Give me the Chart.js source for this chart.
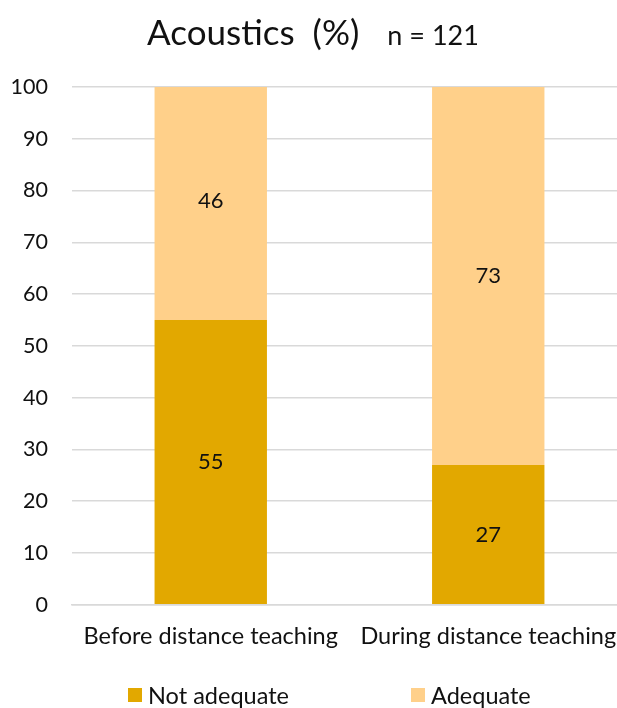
<!DOCTYPE html>
<html>
<head>
<meta charset="utf-8">
<script src="https://cdn.jsdelivr.net/npm/chart.js@4.4.1/dist/chart.umd.min.js"></script>
<style>
  html, body { margin: 0; padding: 0; background: #fff; overflow: hidden; }
  #wrap { width: 617px; height: 708px; overflow: hidden; }
</style>
</head>
<body>
<div id="wrap"><canvas id="chart" width="627" height="708"></canvas></div>
<script>
const categories = ['Before distance teaching', 'During distance teaching'];
const seriesNames = ['Not adequate', 'Adequate'];
const notAdequate = [55, 27];
const adequate = [46, 73];
const yTicks = [0, 10, 20, 30, 40, 50, 60, 70, 80, 90, 100];

const FONT = 'Lato, "Liberation Sans", sans-serif';
const TEXT = '#111';
const colors = ['#E2A800', '#FFD08A'];

// title: big "Acoustics  (%)" plus a smaller "n = 121" on the same line
const titlePlugin = {
  id: 'twoSizeTitle',
  afterDraw(chart) {
    const ctx = chart.ctx;
    const big = 'Acoustics  (%)';
    const small = 'n = 121';
    ctx.save();
    ctx.fillStyle = TEXT;
    ctx.textBaseline = 'alphabetic';
    ctx.font = '35px ' + FONT;
    const wBig = ctx.measureText(big).width;
    ctx.font = '27px ' + FONT;
    const wSmall = ctx.measureText(small).width;
    const gap = 28;
    let x = 313 - (wBig + gap + wSmall) / 2;
    ctx.font = '35px ' + FONT;
    ctx.textAlign = 'left';
    ctx.fillText(big, x, 45);
    ctx.font = '27px ' + FONT;
    ctx.fillText(small, x + wBig + gap, 45);
    ctx.restore();
  }
};

// values in the middle of each segment
const valueLabels = {
  id: 'valueLabels',
  afterDatasetsDraw(chart) {
    const ctx = chart.ctx;
    ctx.save();
    ctx.font = '22px ' + FONT;
    ctx.fillStyle = TEXT;
    ctx.textAlign = 'center';
    ctx.textBaseline = 'middle';
    chart.data.datasets.forEach((ds, i) => {
      chart.getDatasetMeta(i).data.forEach((bar, j) => {
        ctx.fillText(ds.data[j], bar.x, (bar.y + bar.base) / 2);
      });
    });
    ctx.restore();
  }
};

// legend with wide spacing between the two items
const spacedLegend = {
  id: 'spacedLegend',
  afterDraw(chart) {
    const ctx = chart.ctx;
    const xs = [128, 411];
    const y = 695;
    ctx.save();
    ctx.font = '23.5px ' + FONT;
    ctx.textBaseline = 'middle';
    ctx.textAlign = 'left';
    chart.data.datasets.forEach((ds, i) => {
      ctx.fillStyle = ds.backgroundColor;
      ctx.fillRect(xs[i], y - 7, 14, 14);
      ctx.fillStyle = TEXT;
      ctx.fillText(ds.label, xs[i] + 20, y + 1);
    });
    ctx.restore();
  }
};

new Chart('chart', {
  type: 'bar',
  data: {
    labels: categories,
    datasets: [
      { label: seriesNames[0], data: notAdequate, backgroundColor: colors[0] },
      { label: seriesNames[1], data: adequate, backgroundColor: colors[1] }
    ]
  },
  options: {
    responsive: false,
    animation: false,
    devicePixelRatio: 1,
    layout: { padding: { top: 87, left: 8, right: 0, bottom: 39 } },
    datasets: { bar: { barPercentage: 0.405, categoryPercentage: 1 } },
    plugins: {
      legend: { display: false },
      title: { display: false },
      tooltip: { enabled: false }
    },
    scales: {
      x: {
        stacked: true,
        afterFit(axis) { axis.paddingLeft = 0; axis.paddingRight = 0; },
        grid: { display: false, drawTicks: false },
        border: { color: '#d9d9d9', width: 1.5 },
        ticks: { color: TEXT, font: { family: FONT, size: 23.5 }, padding: 18, maxRotation: 0, autoSkip: false }
      },
      y: {
        stacked: true,
        min: 0,
        max: 100,
        afterBuildTicks(axis) { axis.ticks = yTicks.map(v => ({ value: v })); },
        afterFit(axis) { axis.width = 64; },
        grid: { color: '#d9d9d9', lineWidth: 1.5, drawTicks: false },
        border: { display: false },
        ticks: { color: TEXT, font: { family: FONT, size: 21.5 }, padding: 24 }
      }
    }
  },
  plugins: [titlePlugin, valueLabels, spacedLegend]
});
</script>
</body>
</html>
